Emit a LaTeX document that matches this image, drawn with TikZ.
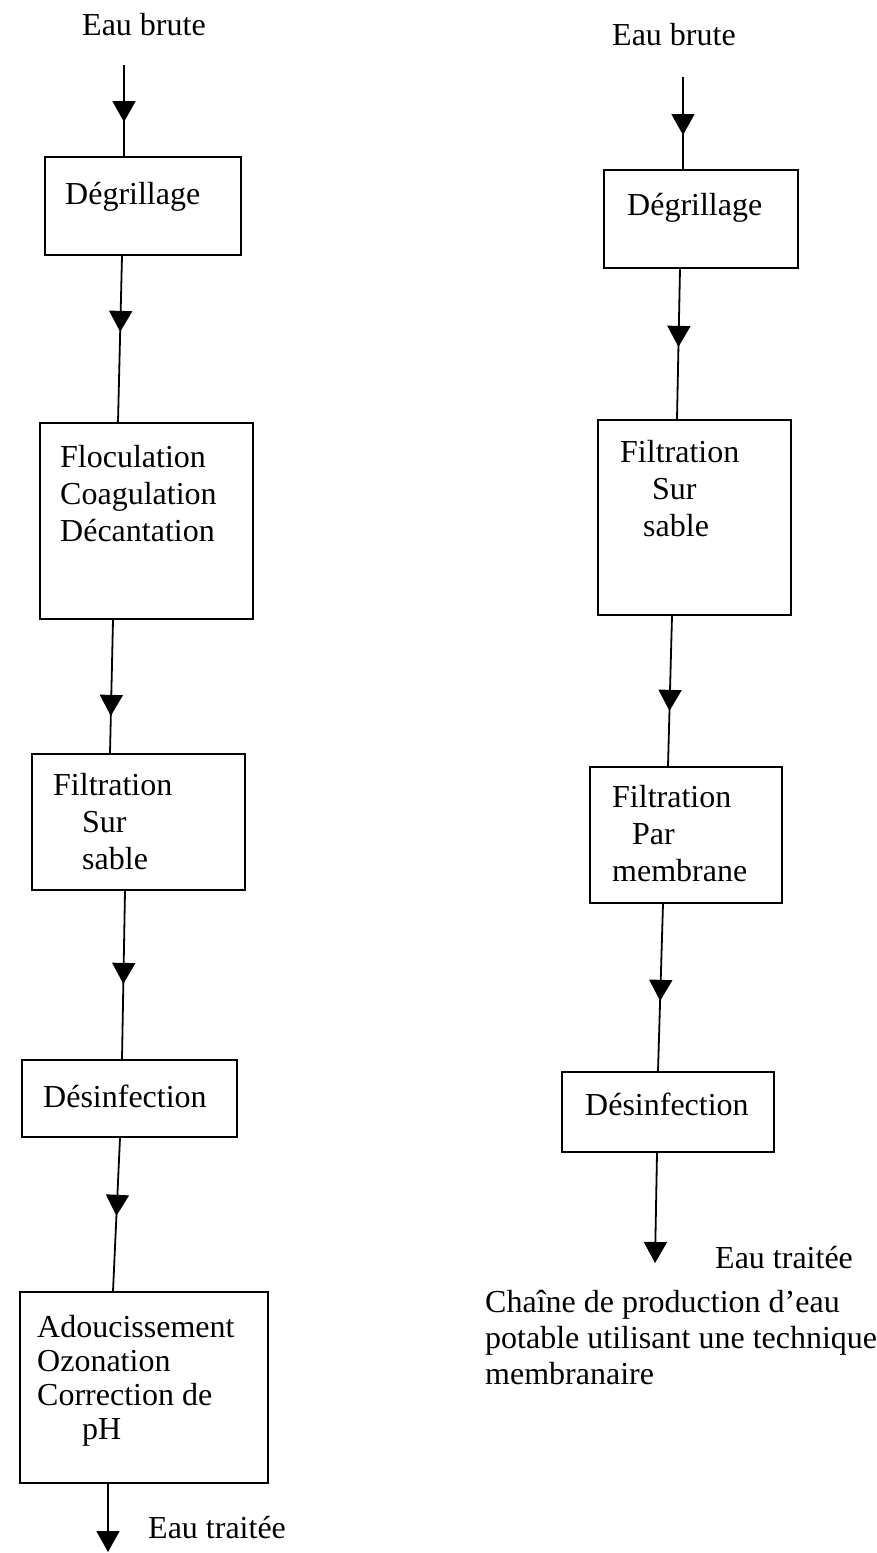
\documentclass[tikz,border=0pt]{standalone}
\usepackage{fontspec}
\setmainfont{Liberation Serif}
\usetikzlibrary{arrows.meta,decorations.markings}

\begin{document}
\begin{tikzpicture}[x=1pt,y=-1pt,
  every node/.style={font=\fontsize{32}{37}\selectfont},
  box/.style={draw,line width=1.8pt,inner sep=0pt},
  txt/.style={inner sep=0pt,anchor=north west,align=left},
  lbl/.style={inner sep=0pt,anchor=base west},
  flow/.style={line width=1.8pt,postaction={decorate,decoration={markings,
      mark=at position #1pt with {\arrow{Triangle[width=23pt,length=21pt]}}}}},
  endflow/.style={line width=1.8pt,-{Triangle[width=23pt,length=21pt]}}]
\useasboundingbox (0,0) rectangle (876,1553);

% classic chain
\node[lbl] (brutL) at (82,35) {Eau brute};
\coordinate (inL) at (124,65);
\node[box,minimum width=196,minimum height=98] (L1) at (143,206) {};
\node[txt] (L1t) at (65,182) {Dégrillage};
\node[box,minimum width=213,minimum height=196] (L2) at (146.5,521) {};
\node[txt] (L2t) at (60,445) {Floculation\\Coagulation\\Décantation};
\node[box,minimum width=213,minimum height=136] (L3) at (138.5,822) {};
\node[txt] (L3t) at (53,773) {Filtration\\\hspace*{29pt}Sur\\\hspace*{29pt}sable};
\node[box,minimum width=215,minimum height=77] (L4) at (129.5,1098.5) {};
\node[txt] (L4t) at (43,1085) {Désinfection};
\node[box,minimum width=248,minimum height=191] (L5) at (144,1387.5) {};
\node[txt,font=\fontsize{32}{34}\selectfont] (L5t) at (37,1315)
  {Adoucissement\\Ozonation\\Correction de\\\hspace*{45pt}pH};
\coordinate (outL) at (108,1552);
\node[lbl] (traiteL) at (148,1538) {Eau traitée};

\draw[flow=57] (inL) -- ([xshift=-19]L1.north);
\draw[flow=76] ([xshift=-21]L1.south) -- ([xshift=-28.5]L2.north);
\draw[flow=96] ([xshift=-33.5]L2.south) -- ([xshift=-28.5]L3.north);
\draw[flow=93] ([xshift=-13.5]L3.south) -- ([xshift=-7.5]L4.north);
\draw[flow=78] ([xshift=-9.5]L4.south) -- ([xshift=-31]L5.north);
\draw[endflow] ([xshift=-36]L5.south) -- (outL);

% membrane chain
\node[lbl] (brutR) at (612,45) {Eau brute};
\coordinate (inR) at (683,77);
\node[box,minimum width=194,minimum height=98] (R1) at (701,219) {};
\node[txt] (R1t) at (627,193) {Dégrillage};
\node[box,minimum width=193,minimum height=195] (R2) at (694.5,517.5) {};
\node[txt] (R2t) at (620,440) {Filtration\\\hspace*{32pt}Sur\\\hspace*{23pt}sable};
\node[box,minimum width=192,minimum height=136] (R3) at (686,835) {};
\node[txt] (R3t) at (612,785) {Filtration\\\hspace*{20pt}Par\\membrane};
\node[box,minimum width=212,minimum height=80] (R4) at (668,1112) {};
\node[txt] (R4t) at (585,1093) {Désinfection};
\coordinate (outR) at (655,1263);
\node[lbl] (traiteR) at (715,1268) {Eau traitée};
\node[txt,font=\fontsize{32}{36}\selectfont] (legende) at (485,1290)
  {Chaîne de production d’eau\\potable utilisant une technique\\membranaire};

\draw[flow=58] (inR) -- ([xshift=-18]R1.north);
\draw[flow=78] ([xshift=-21]R1.south) -- ([xshift=-17.5]R2.north);
\draw[flow=95] ([xshift=-22.5]R2.south) -- ([xshift=-18]R3.north);
\draw[flow=97] ([xshift=-23]R3.south) -- ([xshift=-10]R4.north);
\draw[endflow] ([xshift=-11]R4.south) -- (outR);
\end{tikzpicture}
\end{document}
